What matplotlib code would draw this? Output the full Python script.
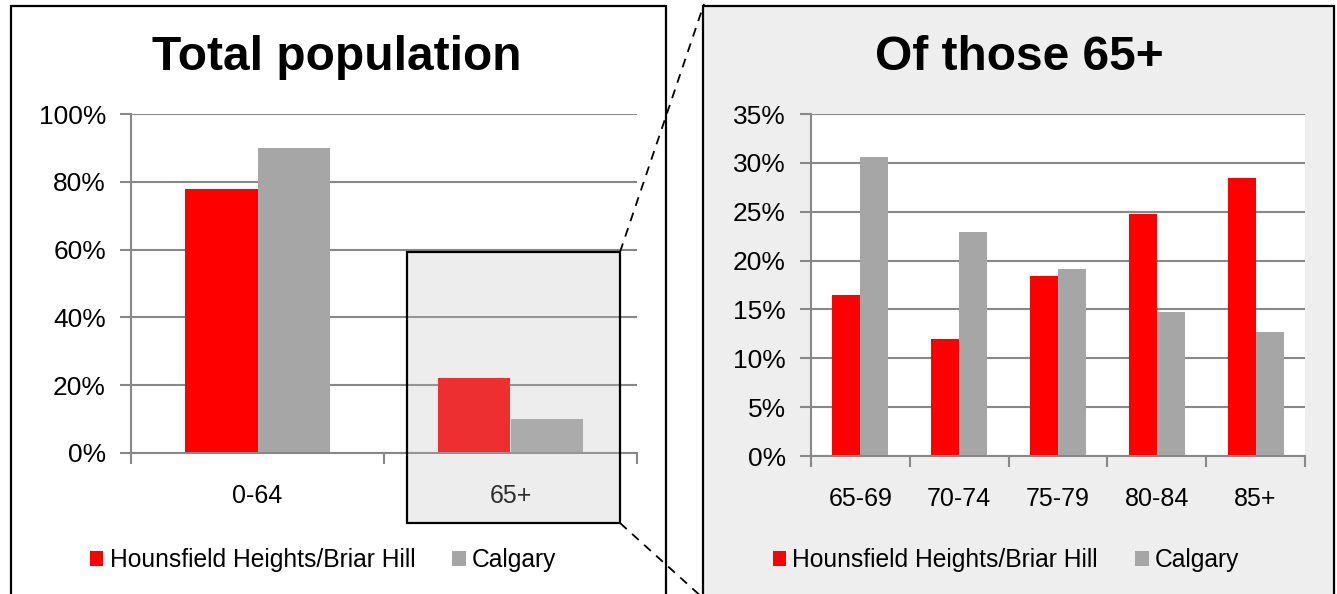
import numpy as np
import matplotlib
matplotlib.use("Agg")
import matplotlib.pyplot as plt
from matplotlib.patches import Rectangle, Patch
from matplotlib.lines import Line2D
from matplotlib.ticker import FixedLocator, FuncFormatter

plt.rcParams["font.family"] = ["Liberation Sans", "DejaVu Sans"]

# data
total_cats = ["0-64", "65+"]
total_local = [78, 22]
total_calgary = [90, 10]

age_cats = ["65-69", "70-74", "75-79", "80-84", "85+"]
age_local = [16.5, 12.0, 18.4, 24.8, 28.4]
age_calgary = [30.6, 22.9, 19.1, 14.7, 12.7]

series_names = ["Hounsfield Heights/Briar Hill", "Calgary"]
RED = "#FF0000"
GRAY = "#A6A6A6"
GRID = "#888888"

W, H = 1337, 594
fig = plt.figure(figsize=(W / 100, H / 100), dpi=100)


def fx(x):
    return x / W


def fy(y):
    return 1 - y / H


def px_axes(x0, y0, x1, y1):
    return fig.add_axes([fx(x0), fy(y1), fx(x1) - fx(x0), fy(y0) - fy(y1)])


# panel frames
fig.patches.append(Rectangle((fx(11), fy(640)), fx(666) - fx(11), fy(6) - fy(640),
                             transform=fig.transFigure, fill=False, edgecolor="black",
                             lw=1.6, zorder=-1))
fig.patches.append(Rectangle((fx(703), fy(640)), fx(1334) - fx(703), fy(6) - fy(640),
                             transform=fig.transFigure, facecolor="#EEEEEE",
                             edgecolor="black", lw=1.6, zorder=-1))


def style_axes(ax, cats, ymax, ystep):
    n = len(cats)
    x = np.arange(n)
    ax.set_xlim(-0.5, n - 0.5)
    ax.set_ylim(0, ymax)
    ax.set_facecolor("white")
    for s in ["top", "right"]:
        ax.spines[s].set_visible(False)
    for s in ["left", "bottom"]:
        ax.spines[s].set_color(GRID)
        ax.spines[s].set_linewidth(1.5)
    ax.set_yticks(np.arange(0, ymax + 0.001, ystep))
    ax.yaxis.set_major_formatter(FuncFormatter(lambda v, p: f"{v:.0f}%"))
    ax.yaxis.grid(True, color=GRID, lw=1.5)
    ax.set_axisbelow(True)
    ax.set_xticks(x)
    ax.set_xticklabels(cats)
    ax.xaxis.set_minor_locator(FixedLocator(np.arange(-0.5, n, 1.0)))
    ax.tick_params(axis="x", which="major", length=0, pad=22, labelsize=18)
    ax.tick_params(axis="x", which="minor", length=8, width=1.5, color=GRID)
    ax.tick_params(axis="y", length=8, width=1.5, color=GRID, pad=10, labelsize=19)
    return x


# left: total population
ax1 = px_axes(131, 114, 637, 453)
x1 = style_axes(ax1, total_cats, 100, 20)
ax1.bar(x1 - 0.285, total_local, width=0.285, align="edge", color=RED, zorder=2)
ax1.bar(x1, total_calgary, width=0.285, align="edge", color=GRAY, zorder=2)

# right: of those 65+
ax2 = px_axes(811, 114, 1305, 456)
x2 = style_axes(ax2, age_cats, 35, 5)
ax2.bar(x2 - 0.283, age_local, width=0.283, align="edge", color=RED, zorder=2)
ax2.bar(x2, age_calgary, width=0.283, align="edge", color=GRAY, zorder=2)

# titles
fig.text(fx(337), fy(57), "Total population", ha="center", va="center",
         fontsize=34.5, fontweight="bold")
fig.text(fx(1019), fy(57), "Of those 65+", ha="center", va="center",
         fontsize=34.5, fontweight="bold")

# legends
handles = [Patch(facecolor=RED, edgecolor="none"), Patch(facecolor=GRAY, edgecolor="none")]
for cx in (323, 1006):
    fig.legend(handles, series_names, loc="center", bbox_to_anchor=(fx(cx), fy(560)),
               ncol=2, frameon=False, fontsize=17.7, handlelength=0.55,
               handleheight=0.55, handletextpad=0.25, columnspacing=1.5)

# highlight box around 65+
fig.patches.append(Rectangle((fx(407), fy(523)), fx(620) - fx(407), fy(252) - fy(523),
                             transform=fig.transFigure,
                             facecolor=(188 / 255, 188 / 255, 188 / 255, 0.255),
                             edgecolor="black", lw=1.6, zorder=5))

# zoom connector lines
fig.lines.append(Line2D([fx(620), fx(704)], [fy(252), fy(4)], transform=fig.transFigure,
                        color="black", lw=1.3, ls=(0, (5, 4)), zorder=6))
fig.lines.append(Line2D([fx(620), fx(704)], [fy(523), fy(599)], transform=fig.transFigure,
                        color="black", lw=1.3, ls=(0, (5, 4)), zorder=6))

fig.savefig("out.png", dpi=100)
